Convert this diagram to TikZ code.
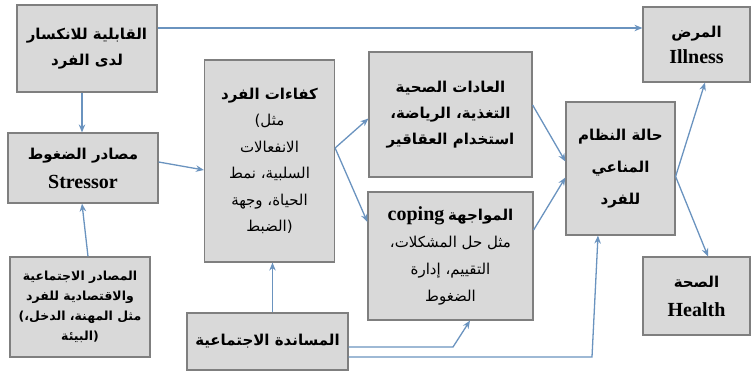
\documentclass[tikz,border=0pt]{standalone}
\usepackage{fontspec}
\setmainfont{Liberation Serif}
\newfontfamily\arabicfont[Script=Arabic]{DejaVu Sans}
\usetikzlibrary{arrows.meta}
\TeXXeTstate=1
\newcommand{\artxt}[1]{{\arabicfont\beginR #1\endR}}
\definecolor{boxfill}{HTML}{D9D9D9}
\definecolor{boxline}{HTML}{7F7F7F}
\definecolor{arrblue}{HTML}{6A93BF}

\begin{document}
\begin{tikzpicture}[x=1pt,y=-1pt,
  box/.style={draw=boxline,line width=1.2pt,fill=boxfill,align=center,inner sep=2pt,
    font=\bfseries\fontsize{15}{26}\selectfont},
  arr/.style={draw=arrblue,line width=1.3pt,-{Stealth[length=8pt,width=6.5pt]}}]
  \useasboundingbox (0,0) rectangle (752,374);
  % boxes
  \node[box,minimum width=140pt,minimum height=87pt] (vul) at (87,48.5)
    {\artxt{القابلية للانكسار}\\\artxt{لدى الفرد}};
  \node[box,minimum width=150pt,minimum height=70pt] (str) at (83,168)
    {\artxt{مصادر الضغوط}\\[3pt]{\fontsize{20}{24}\selectfont Stressor}};
  \node[box,minimum width=140pt,minimum height=100pt,font=\bfseries\fontsize{12.5}{20}\selectfont] (soc) at (80,307)
    {\artxt{المصادر الاجتماعية}\\\artxt{والاقتصادية للفرد}\\\artxt{مثل المهنة، الدخل،)}\\\artxt{(البيئة}};
  \node[box,minimum width=130pt,minimum height=202pt,font=\fontsize{15}{26.5}\selectfont] (comp) at (269.5,161)
    {{\bfseries\artxt{كفاءات الفرد}}\\\artxt{مثل)}\\\artxt{الانفعالات}\\\artxt{السلبية، نمط}\\\artxt{الحياة، وجهة}\\\artxt{(الضبط}};
  \node[box,minimum width=163pt,minimum height=125pt] (hab) at (450.5,114.5)
    {\artxt{العادات الصحية}\\\artxt{التغذية، الرياضة،}\\\artxt{استخدام العقاقير}};
  \node[box,minimum width=165pt,minimum height=128pt,font=\fontsize{15}{27}\selectfont] (cop) at (450.5,256)
    {{\bfseries{\fontsize{20}{26}\selectfont coping} \artxt{المواجهة}}\\\artxt{مثل حل المشكلات،}\\\artxt{التقييم، إدارة}\\\artxt{الضغوط}};
  \node[box,minimum width=161pt,minimum height=57pt] (sup) at (267.5,341.5)
    {\artxt{المساندة الاجتماعية}};
  \node[box,minimum width=109pt,minimum height=133pt,font=\bfseries\fontsize{15}{32}\selectfont] (imm) at (620.5,168.5)
    {\artxt{حالة النظام}\\\artxt{المناعي}\\\artxt{للفرد}};
  \node[box,minimum width=107pt,minimum height=75pt] (ill) at (696.5,44.5)
    {\artxt{المرض}\\{\fontsize{20}{24}\selectfont Illness}};
  \node[box,minimum width=107pt,minimum height=78pt] (hea) at (696.5,296)
    {\artxt{الصحة}\\[3pt]{\fontsize{20}{24}\selectfont Health}};
  % bends
  \coordinate (bendcop) at (453,347);
  \coordinate (bendimm) at (592,357);
  % connectors
  \draw[arr] ([yshift=20.5pt]vul.east) -- ([yshift=20.5pt]vul.east -| ill.west);
  \draw[arr] ([xshift=-5pt]vul.south) -- ([xshift=-5pt]vul.south |- str.north);
  \draw[arr] ([xshift=8pt]soc.north) -- ([xshift=-1pt]str.south);
  \draw[arr] ([yshift=6pt]str.east) -- ([yshift=-9pt]comp.west);
  \draw[arr] ([yshift=13pt]comp.east) -- ([yshift=-4pt]hab.west);
  \draw[arr] ([yshift=13pt]comp.east) -- ([yshift=34pt]cop.west);
  \draw[arr] ([xshift=3pt]comp.south |- sup.north) -- ([xshift=3pt]comp.south);
  \draw[arr] ([yshift=-5.5pt]sup.east) -- (bendcop) -- ([xshift=19.5pt]cop.south);
  \draw[arr] ([yshift=-15.5pt]sup.east) -- (bendimm) -- ([xshift=-22.5pt]imm.south);
  \draw[arr] ([yshift=9.5pt]hab.east) -- ([yshift=7pt]imm.west);
  \draw[arr] ([yshift=26pt]cop.east) -- ([yshift=-9pt]imm.west);
  \draw[arr] ([yshift=-8pt]imm.east) -- ([xshift=8.5pt]ill.south);
  \draw[arr] ([yshift=-8pt]imm.east) -- ([xshift=11.5pt]hea.north);
\end{tikzpicture}
\end{document}
